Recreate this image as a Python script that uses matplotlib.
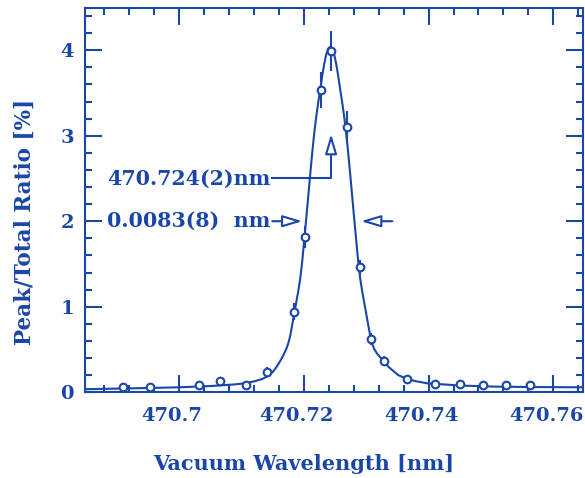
import matplotlib
matplotlib.use("Agg")
import matplotlib.pyplot as plt
from matplotlib.ticker import MultipleLocator, FuncFormatter
from matplotlib.transforms import ScaledTranslation

BLUE = "#1a46a8"

# measured points (wavelength nm, peak/total ratio %, error)
wl = [470.6911, 470.6954, 470.7033, 470.7066, 470.7107, 470.7142, 470.7184,
      470.7203, 470.7228, 470.7244, 470.7270, 470.7290, 470.7308, 470.7329,
      470.7365, 470.7410, 470.7451, 470.7488, 470.7524, 470.7563]
ratio = [0.057, 0.057, 0.084, 0.13, 0.08, 0.24, 0.94,
         1.82, 3.54, 3.99, 3.105, 1.46, 0.62, 0.365,
         0.154, 0.096, 0.096, 0.088, 0.084, 0.084]
err = [0.04, 0.04, 0.04, 0.05, 0.04, 0.05, 0.10,
       0.13, 0.21, 0.23, 0.19, 0.09, 0.07, 0.06,
       0.04, 0.04, 0.04, 0.04, 0.04, 0.04]

# fitted line profile
fit_wl = [470.68474, 470.69226, 470.69994, 470.70538, 470.70874, 470.71066,
          470.71226, 470.71338, 470.71418, 470.71498, 470.71562, 470.71626,
          470.71674, 470.71722, 470.71754, 470.71786, 470.71818, 470.71850,
          470.71882, 470.71914, 470.71946, 470.71978, 470.72010, 470.72042,
          470.72074, 470.72106, 470.72138, 470.72170, 470.72202, 470.72234,
          470.72266, 470.72298, 470.72330, 470.72362, 470.72394, 470.72426,
          470.72458, 470.72490, 470.72522, 470.72554, 470.72586, 470.72618,
          470.72650, 470.72682, 470.72714, 470.72746, 470.72778, 470.72810,
          470.72842, 470.72874, 470.72906, 470.72938, 470.72970, 470.73002,
          470.73034, 470.73066, 470.73098, 470.73130, 470.73178, 470.73226,
          470.73290, 470.73354, 470.73434, 470.73514, 470.73626, 470.73786,
          470.73978, 470.74506, 470.75066, 470.75578, 470.76458, 470.76500]
fit_ratio = [0.035, 0.045, 0.057, 0.073, 0.090, 0.104,
             0.130, 0.155, 0.185, 0.230, 0.290, 0.365,
             0.430, 0.505, 0.570, 0.660, 0.790, 0.920,
             1.050, 1.180, 1.330, 1.530, 1.780, 2.030,
             2.290, 2.550, 2.800, 3.030, 3.220, 3.390,
             3.540, 3.700, 3.840, 3.950, 4.020, 4.040,
             4.020, 3.950, 3.840, 3.700, 3.540, 3.390,
             3.220, 3.030, 2.800, 2.550, 2.290, 2.030,
             1.780, 1.530, 1.330, 1.180, 1.050, 0.920,
             0.790, 0.660, 0.570, 0.505, 0.450, 0.410,
             0.360, 0.300, 0.250, 0.200, 0.165, 0.130,
             0.104, 0.078, 0.065, 0.061, 0.057, 0.056]

center = 470.7244
center_label = "470.724(2)nm"
width_label = "0.0083(8)  nm"
half_max = 2.0
hw_left, hw_right = 470.7198, 470.7292

plt.rcParams["font.family"] = "DejaVu Serif"
plt.rcParams["font.weight"] = "bold"
plt.rcParams["axes.labelweight"] = "bold"
plt.rcParams["text.color"] = BLUE

fig = plt.figure(figsize=(5.85, 4.78), dpi=100)
ax = fig.add_axes([0.1453, 0.1795, 0.852, 0.803])

ax.plot(fit_wl, fit_ratio, color=BLUE, lw=1.5, zorder=2)
ax.errorbar(wl, ratio, yerr=err, fmt="o", ms=5.5, mfc="white", mec=BLUE,
            mew=1.5, ecolor=BLUE, elinewidth=1.5, capsize=0, zorder=3)

ax.set_xlim(470.685, 470.7648)
ax.set_ylim(0, 4.49)

ax.xaxis.set_major_locator(MultipleLocator(0.02))
ax.xaxis.set_minor_locator(MultipleLocator(0.004))
ax.yaxis.set_major_locator(MultipleLocator(1))
ax.yaxis.set_minor_locator(MultipleLocator(0.2))
ax.xaxis.set_major_formatter(FuncFormatter(lambda v, p: "%g" % round(v, 3)))

ax.tick_params(which="both", direction="in", top=True, right=True,
               color=BLUE, labelcolor=BLUE, width=1.5, labelsize=14)
ax.tick_params(which="major", length=12)
ax.tick_params(which="minor", length=5)
ax.tick_params(axis="x", pad=11)
ax.tick_params(axis="y", pad=8)
for s in ax.spines.values():
    s.set_color(BLUE)
    s.set_linewidth(1.5)

# x tick labels sit a little left of their ticks in the original
shift = ScaledTranslation(-7 / 100, 0, fig.dpi_scale_trans)
for lab in ax.get_xticklabels():
    lab.set_transform(lab.get_transform() + shift)

ax.set_xlabel("Vacuum Wavelength [nm]", fontsize=15, color=BLUE)
ax.set_ylabel("Peak/Total Ratio [%]", fontsize=15.5, color=BLUE)
ax.xaxis.set_label_coords(0.439, -0.162)
ax.yaxis.set_label_coords(-0.098, 0.444)

arrow = dict(arrowstyle="-|>,head_length=1.2,head_width=0.36",
             fc="white", ec=BLUE, lw=1.5, shrinkA=0, shrinkB=0)

# peak position annotation
ax.text(470.6886, 2.5, center_label, fontsize=14.8, va="center", ha="left")
ax.plot([470.7150, center, center], [2.5, 2.5, 2.82], color=BLUE, lw=1.5)
ax.annotate("", xy=(center, 3.02), xytext=(center, 2.78), arrowprops=arrow)

# width annotation
ax.text(470.6886, half_max, width_label, fontsize=14.8, va="center", ha="left")
ax.annotate("", xy=(hw_left, half_max), xytext=(470.7150, half_max),
            arrowprops=arrow)
ax.annotate("", xy=(hw_right, half_max), xytext=(470.7342, half_max),
            arrowprops=arrow)

fig.savefig("out.png", dpi=100)
